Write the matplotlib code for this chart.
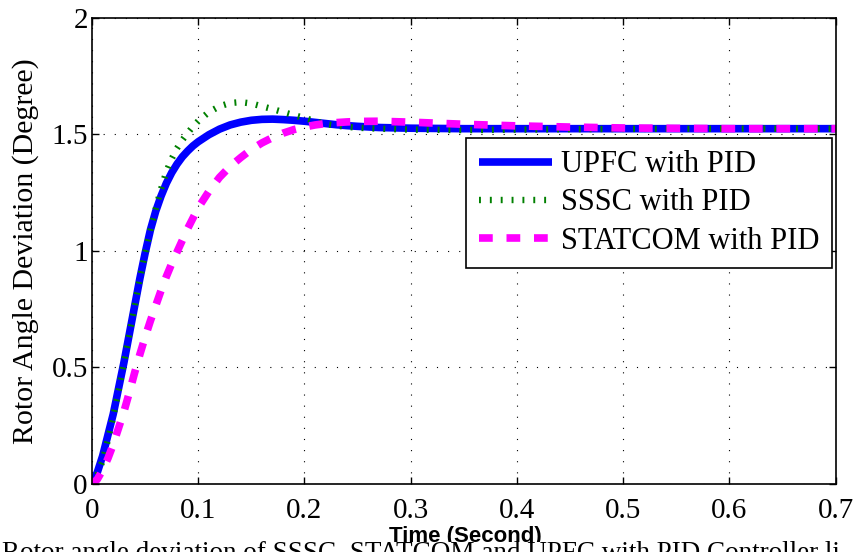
import matplotlib
matplotlib.use("Agg")
import matplotlib.pyplot as plt
from matplotlib.patches import Rectangle

# time axis (s) shared by the three responses
t = [0, 0.005, 0.01, 0.015, 0.02, 0.025, 0.03, 0.035, 0.04, 0.045, 0.05,
     0.055, 0.06, 0.065, 0.07, 0.075, 0.08, 0.085, 0.09, 0.095, 0.1,
     0.11, 0.12, 0.13, 0.14, 0.15, 0.16, 0.17, 0.18, 0.19, 0.2,
     0.21, 0.22, 0.23, 0.24, 0.25, 0.27, 0.3, 0.35, 0.4, 0.45, 0.5, 0.6, 0.7]

upfc = [0, 0.05, 0.12, 0.21, 0.30, 0.41, 0.52, 0.64, 0.76, 0.88, 0.99,
        1.09, 1.17, 1.235, 1.29, 1.335, 1.372, 1.403, 1.428, 1.45, 1.468,
        1.498, 1.522, 1.54, 1.552, 1.56, 1.564, 1.565, 1.563, 1.56, 1.556,
        1.551, 1.546, 1.541, 1.537, 1.534, 1.529, 1.526, 1.524, 1.524, 1.524, 1.524, 1.524, 1.524]

sssc = [0, 0.04, 0.10, 0.19, 0.29, 0.40, 0.52, 0.64, 0.76, 0.88, 0.99,
        1.09, 1.18, 1.265, 1.34, 1.395, 1.44, 1.475, 1.505, 1.533, 1.557,
        1.595, 1.62, 1.634, 1.638, 1.632, 1.62, 1.608, 1.595, 1.582, 1.57,
        1.556, 1.544, 1.537, 1.532, 1.528, 1.524, 1.52, 1.518, 1.52, 1.522, 1.523, 1.524, 1.524]

statcom = [0, 0.02, 0.06, 0.11, 0.17, 0.24, 0.31, 0.39, 0.475, 0.555, 0.63,
           0.70, 0.765, 0.83, 0.89, 0.945, 0.995, 1.045, 1.095, 1.14, 1.185,
           1.255, 1.315, 1.362, 1.40, 1.435, 1.463, 1.486, 1.505, 1.52, 1.531,
           1.54, 1.546, 1.55, 1.553, 1.555, 1.556, 1.552, 1.543, 1.536, 1.531, 1.527, 1.524, 1.524]

labels = ["UPFC with PID", "SSSC with PID", "STATCOM with PID"]
xticks = [0, 0.1, 0.2, 0.3, 0.4, 0.5, 0.6, 0.7]
xticklabels = ["0", "0.1", "0.2", "0.3", "0.4", "0.5", "0.6", "0.7"]
yticks = [0, 0.5, 1, 1.5, 2]
yticklabels = ["0", "0.5", "1", "1.5", "2"]

serif = "Liberation Serif"

fig = plt.figure(figsize=(8.58, 5.52), dpi=100)
ax = fig.add_axes([92/858, 68/552, 743.6/858, 466.3/552])

ax.plot(t, upfc, color="#0000ff", lw=5.5, solid_capstyle="butt", label=labels[0])
ax.plot(t, sssc, color="#008000", lw=4.6, linestyle=(0, (0.3, 1.4)), label=labels[1])
ax.plot(t, statcom, color="#ff00ff", lw=5.5, linestyle=(0, (1.8, 1.8)), label=labels[2])

ax.set_xlim(0, 0.7)
ax.set_ylim(0, 2)
ax.set_xticks(xticks)
ax.set_xticklabels(xticklabels, fontfamily=serif, fontsize=21)
ax.set_yticks(yticks)
ax.set_yticklabels(yticklabels, fontfamily=serif, fontsize=21)
ax.tick_params(direction="in", length=5, width=1, top=True, right=True)
ax.tick_params(axis="x", pad=10)
ax.tick_params(axis="y", pad=3)
for s in ax.spines.values():
    s.set_linewidth(1.2)

# matlab style dotted grid
ax.grid(True, color="black", lw=0.8, linestyle=(0, (1, 9)))

ax.set_ylabel("Rotor Angle Deviation (Degree)", fontfamily=serif, fontsize=21.5)
ax.yaxis.set_label_coords(-0.071, 0.5)

leg = ax.legend(loc="upper right", bbox_to_anchor=(0.995, 0.742), borderaxespad=0,
                prop={"family": serif, "size": 22}, fancybox=False, framealpha=1,
                edgecolor="black", handlelength=2.4, handletextpad=0.3,
                labelspacing=0.3, borderpad=0.4)
leg.get_frame().set_linewidth(1.2)

# x label, partly hidden by the figure caption below it
fig.text(465/858, (552-526)/552, "Time (Second)", ha="center", va="top",
         fontfamily="Liberation Sans", fontweight="bold", fontsize=16)
fig.patches.append(Rectangle((0, 0), 1, (552-542)/552, transform=fig.transFigure,
                             facecolor="white", edgecolor="none", zorder=5))
fig.text(0.002, (552-541)/552,
         "Rotor angle deviation of SSSC, STATCOM and UPFC with PID Controller li",
         ha="left", va="top", fontfamily=serif, fontsize=19.5, zorder=6)

fig.savefig("out.png", dpi=100)
